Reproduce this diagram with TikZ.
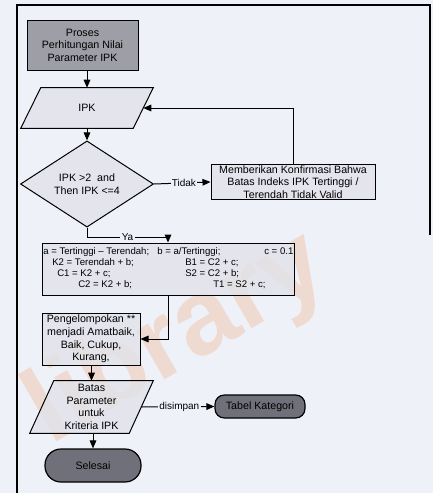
\documentclass[tikz,border=0pt]{standalone}
\usepackage{fontspec}
\setmainfont{Liberation Sans}
\usetikzlibrary{arrows.meta,shapes.geometric,calc}
\pgfdeclarelayer{bg}
\pgfsetlayers{bg,main}

\definecolor{paper}{RGB}{239,241,248}
\definecolor{boxfill}{RGB}{226,227,233}
\definecolor{startfill}{RGB}{158,158,166}
\definecolor{termfill}{RGB}{112,112,122}
\definecolor{wmark}{RGB}{236,128,48}

\begin{document}
\begin{tikzpicture}[x=0.75pt,y=-0.75pt,
  every node/.style={font=\fontsize{8}{9.4}\selectfont, inner sep=0pt},
  procbox/.style={draw, line width=0.75pt, fill=boxfill, fill opacity=0.8, text opacity=1, align=center},
  startbox/.style={draw, line width=0.75pt, fill=startfill, align=center},
  termbox/.style={draw, line width=0.9pt, fill=termfill, rounded corners=12pt, align=center},
  storebox/.style={draw, line width=0.9pt, fill=termfill, rounded corners=7pt, align=center},
  decbox/.style={diamond, draw, line width=0.75pt, fill=boxfill, fill opacity=0.8, text opacity=1, align=center},
  iotext/.style={align=center},
  iofill/.style={draw, line width=0.75pt, fill=boxfill, fill opacity=0.8},
  calctext/.style={font=\fontsize{7.2}{8}\selectfont, anchor=west},
  lbl/.style={fill=paper, inner sep=1pt, font=\fontsize{7.5}{8}\selectfont},
  flow/.style={line width=0.75pt, -{Triangle[length=6pt,width=5pt]}},
  frameline/.style={line width=1pt}]

\useasboundingbox (0,0) rectangle (433,493);

% paper and faint watermark behind the chart
\begin{pgfonlayer}{bg}
  \fill[paper] (0,0) rectangle (433,493);
  \node[rotate=30, text=wmark, opacity=0.2, font=\fontsize{80}{80}\bfseries\selectfont] (wm) at (178,340) {library};
\end{pgfonlayer}

% page frame
\draw[frameline] (430,235) -- (430,5) -- (17,5) -- (17,493);

% nodes
\node[startbox, minimum width=83.25pt, minimum height=37.5pt] (start) at (82.5,45)
  {Proses\\Perhitungan Nilai\\Parameter IPK};

\node[iotext, minimum width=84pt, minimum height=30pt] (ipk) at (87,108) {IPK};

\node[decbox, minimum width=99.75pt, minimum height=51pt] (dec) at (87,184)
  {IPK >2 \ and\\Then IPK <=4};

\node[procbox, minimum width=123pt, minimum height=26.25pt, inner ysep=0.5pt] (conf) at (293,182)
  {Memberikan Konfirmasi Bahwa\\Batas Indeks IPK Tertinggi /\\Terendah Tidak Valid};

\node[procbox, minimum width=189pt, minimum height=39pt] (calc) at (168,269) {};
\node[calctext] (c1a) at (43,252) {a = Tertinggi -- Terendah;};
\node[calctext] (c1b) at (157,252) {b = a/Tertinggi;};
\node[calctext] (c1c) at (264,252) {c = 0.1;};
\node[calctext] (c2a) at (52,263) {K2 = Terendah + b;};
\node[calctext] (c2b) at (185,263) {B1 = C2 + c;};
\node[calctext] (c3a) at (57,274) {C1 = K2 + c;};
\node[calctext] (c3b) at (185,274) {S2 = C2 + b;};
\node[calctext] (c4a) at (78,285) {C2 = K2 + b;};
\node[calctext] (c4b) at (213,285) {T1 = S2 + c;};

\node[procbox, minimum width=73.5pt, minimum height=39pt, inner ysep=0.5pt] (group) at (91,339)
  {Pengelompokan **\\menjadi Amatbaik,\\Baik, Cukup,\\Kurang,};

\node[iotext, minimum width=74.25pt, minimum height=39pt] (param) at (91.5,407)
  {Batas\\Parameter\\untuk\\Kriteria IPK};

\node[storebox, minimum width=67.5pt, minimum height=17.25pt] (tabel) at (260,406.5)
  {Tabel Kategori};

\node[termbox, minimum width=72pt, minimum height=24.75pt] (stop) at (93,465.5)
  {Selesai};

% parallelogram outlines for the input/output nodes
\begin{pgfonlayer}{bg}
  \path[iofill] ($(ipk.north west)+(10,0)$) -- ($(ipk.north east)+(10,0)$)
    -- ($(ipk.south east)+(-10,0)$) -- ($(ipk.south west)+(-10,0)$) -- cycle;
  \path[iofill] ($(param.north west)+(12,0)$) -- ($(param.north east)+(12,0)$)
    -- ($(param.south east)+(-12,0)$) -- ($(param.south west)+(-12,0)$) -- cycle;
\end{pgfonlayer}

% connectors
\draw[flow] (start.south -| ipk.north) -- (ipk.north);
\draw[flow] (ipk.south) -- (dec.north);
\draw[flow] (dec.east) -- node[lbl, pos=0.53] {Tidak} (conf.west);
\draw[flow] (conf.north) |- (ipk.east);
\draw[flow] (dec.south) -- ++(0,10) -| node[lbl, pos=0.25] {Ya} (calc.north);
\draw[flow] (calc.south) |- (group.east);
\draw[flow] (group.south -| param.north) -- (param.north);
\draw[flow] (param.east) -- node[lbl, pos=0.52] {disimpan} (tabel.west);
\draw[flow] (param.south -| stop.north) -- (stop.north);

\end{tikzpicture}
\end{document}
